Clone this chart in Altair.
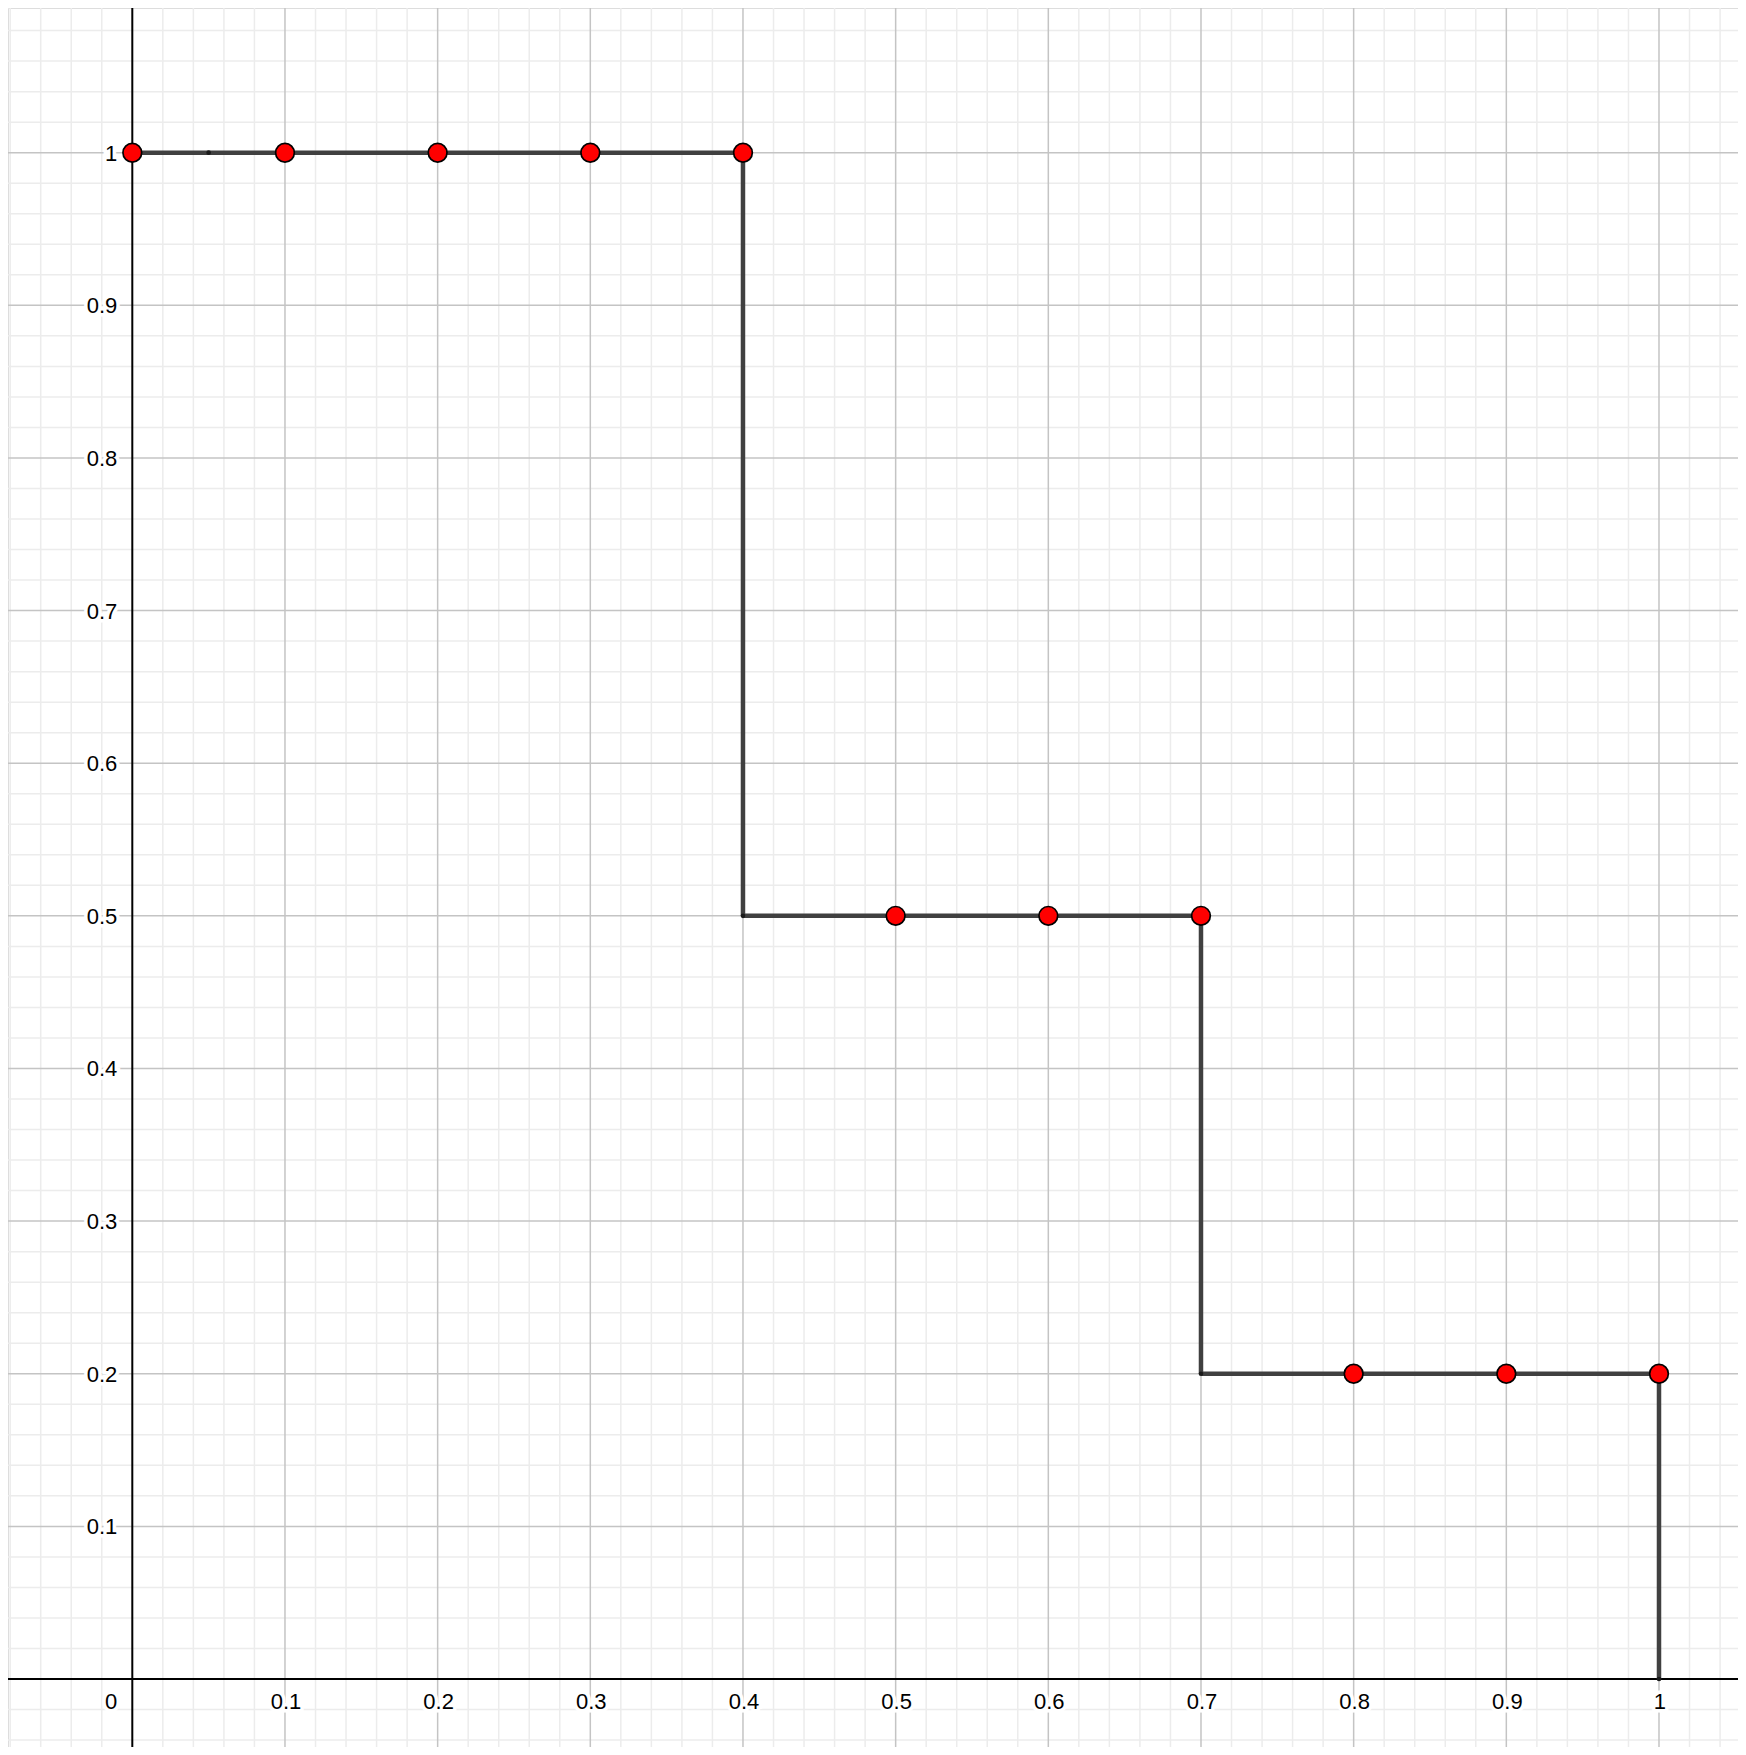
import altair as alt
import pandas as pd
import numpy as np

# ---- data ----
point_x = [0.0, 0.1, 0.2, 0.3, 0.4, 0.5, 0.6, 0.7, 0.8, 0.9, 1.0]
point_y = [1.0, 1.0, 1.0, 1.0, 1.0, 0.5, 0.5, 0.5, 0.2, 0.2, 0.2]

seg_x1 = [0.0, 0.4, 0.4, 0.7, 0.7, 1.0]
seg_x2 = [0.4, 0.4, 0.7, 0.7, 1.0, 1.0]
seg_y1 = [1.0, 1.0, 0.5, 0.5, 0.2, 0.2]
seg_y2 = [1.0, 0.5, 0.5, 0.2, 0.2, 0.0]

dot_x = [0.05, 0.4, 0.7, 1.0]
dot_y = [1.0, 0.5, 0.2, 0.0]

major_ticks = [0.1, 0.2, 0.3, 0.4, 0.5, 0.6, 0.7, 0.8, 0.9, 1.0]
x_labels = ["0.1", "0.2", "0.3", "0.4", "0.5", "0.6", "0.7", "0.8", "0.9", "1"]
y_labels = ["0.1", "0.2", "0.3", "0.4", "0.5", "0.6", "0.7", "0.8", "0.9", "1"]
minor_x = [round(v, 2) for v in np.arange(-0.08, 1.06, 0.02) if round(v * 50) % 5 != 0]
minor_y = [round(v, 2) for v in np.arange(-0.04, 1.10, 0.02) if round(v * 50) % 5 != 0]

# ---- view ----
X_DOMAIN = [-0.08142, 1.05175]
Y_DOMAIN = [-0.04454, 1.0948]
W, H = 1730, 1739

xs = alt.Scale(domain=X_DOMAIN, nice=False, zero=False)
ys = alt.Scale(domain=Y_DOMAIN, nice=False, zero=False)

FONT = "Liberation Sans"

minor_v = alt.Chart(pd.DataFrame({"x": minor_x})).mark_rule(color="#ececec", strokeWidth=1.5).encode(
    x=alt.X("x:Q", scale=xs, axis=None))
minor_h = alt.Chart(pd.DataFrame({"y": minor_y})).mark_rule(color="#ececec", strokeWidth=1.5).encode(
    y=alt.Y("y:Q", scale=ys, axis=None))
major_v = alt.Chart(pd.DataFrame({"x": major_ticks})).mark_rule(color="#c4c4c4", strokeWidth=1.5).encode(
    x=alt.X("x:Q", scale=xs, axis=None))
major_h = alt.Chart(pd.DataFrame({"y": major_ticks})).mark_rule(color="#c4c4c4", strokeWidth=1.5).encode(
    y=alt.Y("y:Q", scale=ys, axis=None))

axis_v = alt.Chart(pd.DataFrame({"x": [0.0]})).mark_rule(color="#000000", strokeWidth=2).encode(
    x=alt.X("x:Q", scale=xs, axis=None))
axis_h = alt.Chart(pd.DataFrame({"y": [0.0]})).mark_rule(color="#000000", strokeWidth=2).encode(
    y=alt.Y("y:Q", scale=ys, axis=None))

# tick labels
xl_df = pd.DataFrame({"x": major_ticks, "y": [0.0] * len(major_ticks), "t": x_labels})
yl_df = pd.DataFrame({"x": [0.0] * len(major_ticks), "y": major_ticks, "t": y_labels})
zero_df = pd.DataFrame({"x": [0.0], "y": [0.0], "t": ["0"]})

def labels(df, align, dx, dy):
    enc = dict(x=alt.X("x:Q", scale=xs, axis=None), y=alt.Y("y:Q", scale=ys, axis=None), text="t:N")
    halo = alt.Chart(df).mark_text(font=FONT, fontSize=22, align=align, baseline="middle", dx=dx, dy=dy,
                                   color="white", stroke="white", strokeWidth=7).encode(**enc)
    txt = alt.Chart(df).mark_text(font=FONT, fontSize=22, align=align, baseline="middle", dx=dx, dy=dy,
                                  color="#000000").encode(**enc)
    return halo + txt

xlab = labels(xl_df, "center", 1, 23)
ylab = labels(yl_df, "right", -15, 1)
zlab = labels(zero_df, "right", -15, 23)

seg_df = pd.DataFrame({"x": seg_x1, "x2": seg_x2, "y": seg_y1, "y2": seg_y2})
segs = alt.Chart(seg_df).mark_rule(color="#404040", strokeWidth=4.5, strokeCap="butt").encode(
    x=alt.X("x:Q", scale=xs, axis=None), x2="x2:Q",
    y=alt.Y("y:Q", scale=ys, axis=None), y2="y2:Q")

dots = alt.Chart(pd.DataFrame({"x": dot_x, "y": dot_y})).mark_point(
    filled=True, color="#1a1a1a", size=22, opacity=1).encode(
    x=alt.X("x:Q", scale=xs, axis=None), y=alt.Y("y:Q", scale=ys, axis=None))

pts = alt.Chart(pd.DataFrame({"x": point_x, "y": point_y})).mark_point(
    shape="circle", filled=True, fill="#ff0000", stroke="#000000", strokeWidth=1.7,
    size=350, opacity=1, fillOpacity=1).encode(
    x=alt.X("x:Q", scale=xs, axis=None), y=alt.Y("y:Q", scale=ys, axis=None))

chart = alt.layer(
    minor_v, minor_h, major_v, major_h, axis_v, axis_h,
    xlab, ylab, zlab, segs, dots, pts
).properties(
    width=W, height=H, padding=0, autosize=alt.AutoSizeParams(type="none")
).configure_view(stroke=None, clip=True).configure(background="white")

chart.save("out.html", embed_options={"renderer": "svg", "actions": False})
